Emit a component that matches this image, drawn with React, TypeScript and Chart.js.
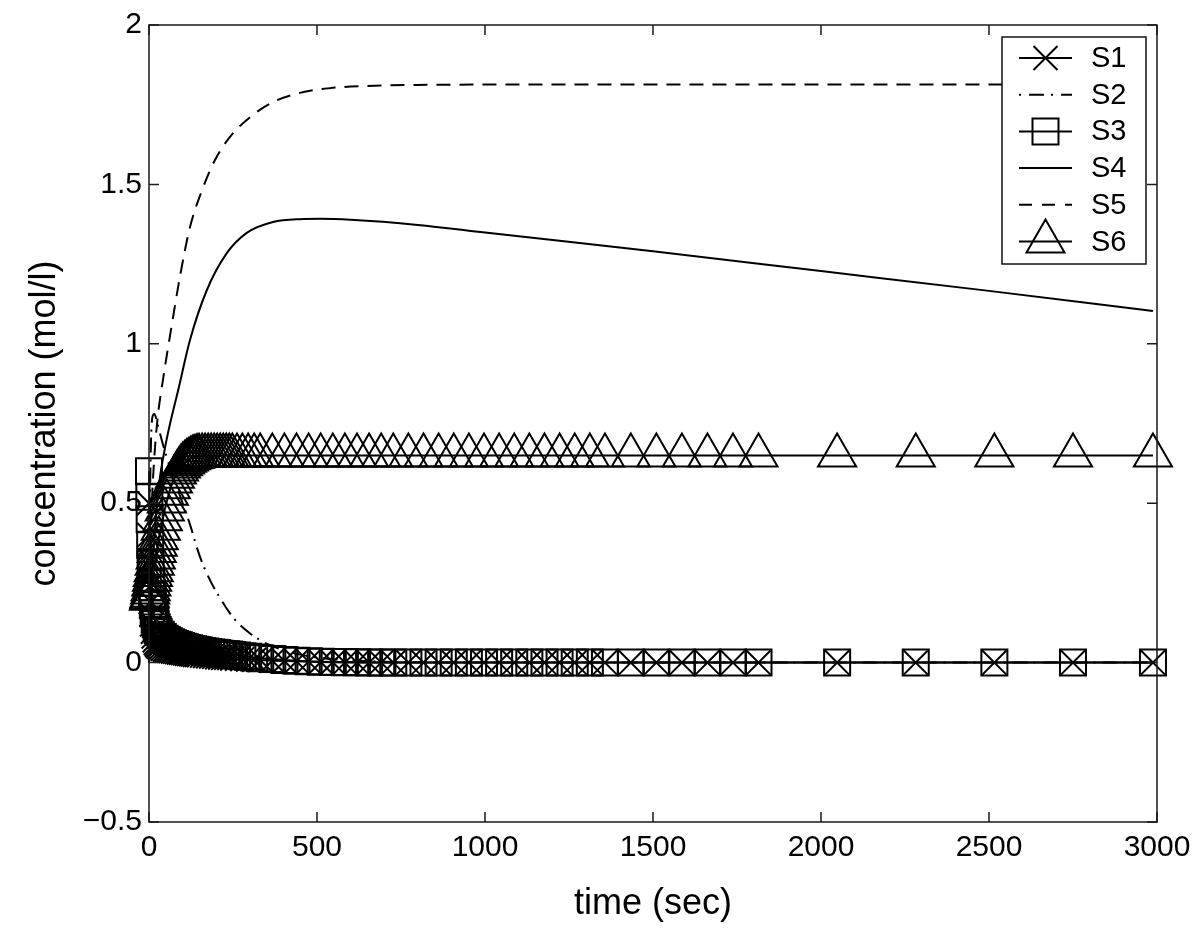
import React, { useEffect, useRef } from 'react';
import { Chart, registerables } from 'chart.js';

Chart.register(...registerables);

const FONT = '"Liberation Sans", Arial, Helvetica, sans-serif';

const seriesNames = ['S1', 'S2', 'S3', 'S4', 'S5', 'S6'];
const xTitle = 'time (sec)';
const yTitle = 'concentration (mol/l)';
const xTicks = [0, 500, 1000, 1500, 2000, 2500, 3000];
const xTickLabels = ['0', '500', '1000', '1500', '2000', '2500', '3000'];
const yTicks = [-0.5, 0, 0.5, 1, 1.5, 2];
const yTickLabels = ['\u22120.5', '0', '0.5', '1', '1.5', '2'];

// solver output times (marker series)
const tStep = [
  0, 1, 2, 3.5, 5, 7, 9, 11.5, 14, 17, 20, 23, 26, 29,
  35, 41, 47, 53, 59, 65, 71, 77, 83, 89, 95, 101, 107, 113, 119, 125, 131, 137, 143, 149,
  158, 167, 176, 185, 194, 203, 212, 221, 230, 239, 248,
  262, 278, 295, 313, 331,
  367, 403, 439, 475, 511, 547, 583, 619, 655, 691, 727,
  772, 817, 862, 907, 952, 997, 1042, 1087, 1132, 1177, 1222, 1267, 1312, 1357,
  1434, 1510, 1586, 1662, 1738, 1814,
  2048, 2282, 2516, 2750, 2988,
];

const s1 = [
  0.5, 0.4, 0.32, 0.24, 0.19, 0.15, 0.12, 0.097, 0.082, 0.07, 0.062, 0.057, 0.053, 0.05,
  0.046, 0.043, 0.041, 0.039, 0.037, 0.036, 0.035, 0.034, 0.033, 0.032, 0.031, 0.03, 0.029, 0.028, 0.027, 0.026, 0.025, 0.024, 0.024, 0.023,
  0.022, 0.021, 0.02, 0.019, 0.018, 0.017, 0.016, 0.015, 0.015, 0.014, 0.013,
  0.012, 0.011, 0.01, 0.009, 0.008,
  0.006, 0.005, 0.004, 0.003, 0.002, 0.001, 0, 0, 0, 0, 0,
  0, 0, 0, 0, 0, 0, 0, 0, 0, 0, 0, 0, 0, 0,
  0, 0, 0, 0, 0, 0,
  0, 0, 0, 0, 0,
];

const s3 = [
  0.6, 0.52, 0.45, 0.37, 0.31, 0.25, 0.21, 0.18, 0.155, 0.135, 0.12, 0.11, 0.102, 0.096,
  0.087, 0.08, 0.075, 0.071, 0.067, 0.064, 0.061, 0.058, 0.056, 0.054, 0.052, 0.05, 0.048, 0.046, 0.045, 0.043, 0.042, 0.04, 0.039, 0.038,
  0.036, 0.035, 0.033, 0.032, 0.031, 0.03, 0.028, 0.027, 0.026, 0.025, 0.024,
  0.022, 0.02, 0.018, 0.016, 0.014,
  0.011, 0.008, 0.006, 0.004, 0.003, 0.002, 0.0015, 0.001, 0, 0, 0,
  0, 0, 0, 0, 0, 0, 0, 0, 0, 0, 0, 0, 0, 0,
  0, 0, 0, 0, 0, 0,
  0, 0, 0, 0, 0,
];

const s6 = [
  0.2, 0.205, 0.21, 0.22, 0.23, 0.245, 0.26, 0.275, 0.29, 0.31, 0.33, 0.35, 0.37, 0.39,
  0.42, 0.45, 0.48, 0.505, 0.53, 0.55, 0.568, 0.583, 0.596, 0.606, 0.615, 0.622, 0.628, 0.633, 0.637, 0.641, 0.644, 0.646, 0.648, 0.649,
  0.65, 0.65, 0.65, 0.65, 0.65, 0.65, 0.65, 0.65, 0.65, 0.65, 0.65,
  0.65, 0.65, 0.65, 0.65, 0.65,
  0.65, 0.65, 0.65, 0.65, 0.65, 0.65, 0.65, 0.65, 0.65, 0.65, 0.65,
  0.65, 0.65, 0.65, 0.65, 0.65, 0.65, 0.65, 0.65, 0.65, 0.65, 0.65, 0.65, 0.65, 0.65,
  0.65, 0.65, 0.65, 0.65, 0.65, 0.65,
  0.65, 0.65, 0.65, 0.65, 0.65,
];

const tS2 = [0, 2, 5, 10, 16, 25, 40, 60, 90, 120, 150, 175, 210, 250, 300, 355, 400, 450, 500, 600, 700, 800, 1000, 2988];
const s2 = [0, 0.4, 0.65, 0.77, 0.78, 0.75, 0.69, 0.62, 0.53, 0.44, 0.337, 0.273, 0.205, 0.142, 0.092, 0.057, 0.039, 0.025, 0.016, 0.007, 0.003, 0.001, 0, 0];

const tS4 = [0, 5, 10, 20, 30, 48, 65, 87, 122, 172, 232, 291, 369, 449, 510, 600, 800, 1000, 1500, 2000, 2500, 2988];
const s4 = [0, 0.15, 0.28, 0.45, 0.56, 0.676, 0.76, 0.855, 1.012, 1.168, 1.285, 1.348, 1.382, 1.391, 1.392, 1.389, 1.373, 1.349, 1.29, 1.228, 1.166, 1.103];

const tS5 = [0, 3, 8, 15, 25, 42, 68, 92, 122, 158, 196, 241, 301, 369, 449, 539, 650, 800, 1000, 2988];
const s5 = [0, 0.25, 0.48, 0.63, 0.76, 0.89, 1.06, 1.21, 1.366, 1.482, 1.576, 1.649, 1.711, 1.758, 1.787, 1.802, 1.809, 1.812, 1.813, 1.813];

const xy = (t: number[], v: number[]) => t.map((x, i) => ({ x, y: v[i] }));

type LegendItem = { name: string; dash: number[]; marker: string };
const legendItems: LegendItem[] = [
  { name: seriesNames[0], dash: [], marker: 'x' },
  { name: seriesNames[1], dash: [2, 8, 15, 7], marker: '' },
  { name: seriesNames[2], dash: [], marker: 'square' },
  { name: seriesNames[3], dash: [], marker: '' },
  { name: seriesNames[4], dash: [13, 10], marker: '' },
  { name: seriesNames[5], dash: [], marker: 'triangle' },
];

function drawMarker(ctx: CanvasRenderingContext2D, kind: string, x: number, y: number) {
  ctx.beginPath();
  if (kind === 'x') {
    const o = 12;
    ctx.moveTo(x - o, y - o); ctx.lineTo(x + o, y + o);
    ctx.moveTo(x + o, y - o); ctx.lineTo(x - o, y + o);
  } else if (kind === 'square') {
    ctx.rect(x - 13, y - 13, 26, 26);
  } else if (kind === 'triangle') {
    ctx.moveTo(x, y - 22); ctx.lineTo(x + 19, y + 11); ctx.lineTo(x - 19, y + 11); ctx.closePath();
  }
  ctx.stroke();
}

const matlabPlugin = {
  id: 'matlabLook',
  afterDatasetsDraw(chart: any) {
    const ctx: CanvasRenderingContext2D = chart.ctx;
    ctx.save();
    const bx = 1002, by = 37, bw = 144, bh = 227;
    ctx.fillStyle = '#fff';
    ctx.fillRect(bx, by, bw + 8, bh);
    ctx.strokeStyle = '#111';
    ctx.lineWidth = 1.5;
    ctx.strokeRect(bx, by, bw, bh);
    ctx.font = `29px ${FONT}`;
    ctx.textAlign = 'left';
    ctx.textBaseline = 'middle';
    legendItems.forEach((it, i) => {
      const y = 58 + i * 36.7;
      ctx.strokeStyle = '#000';
      ctx.lineWidth = 2;
      ctx.setLineDash(it.dash);
      ctx.beginPath();
      ctx.moveTo(1019, y);
      ctx.lineTo(1072, y);
      ctx.stroke();
      ctx.setLineDash([]);
      if (it.marker) drawMarker(ctx, it.marker, 1045.5, y);
      ctx.fillStyle = '#000';
      ctx.fillText(it.name, 1091, y + 1);
    });
    ctx.restore();
  },
  afterDraw(chart: any) {
    const ctx: CanvasRenderingContext2D = chart.ctx;
    const a = chart.chartArea;
    const sx = chart.scales.x;
    const sy = chart.scales.y;
    ctx.save();
    ctx.strokeStyle = '#1a1a1a';
    ctx.lineWidth = 1.5;
    ctx.setLineDash([]);
    ctx.strokeRect(a.left, a.top, a.right - a.left, a.bottom - a.top);
    ctx.beginPath();
    for (const v of xTicks) {
      const px = sx.getPixelForValue(v);
      ctx.moveTo(px, a.bottom); ctx.lineTo(px, a.bottom - 10);
      ctx.moveTo(px, a.top); ctx.lineTo(px, a.top + 10);
    }
    for (const v of yTicks) {
      const py = sy.getPixelForValue(v);
      ctx.moveTo(a.left, py); ctx.lineTo(a.left + 10, py);
      ctx.moveTo(a.right, py); ctx.lineTo(a.right - 10, py);
    }
    ctx.stroke();
    ctx.fillStyle = '#000';
    ctx.font = `36px ${FONT}`;
    ctx.textAlign = 'center';
    ctx.textBaseline = 'middle';
    ctx.fillText(xTitle, (a.left + a.right) / 2, 904);
    ctx.translate(45, (a.top + a.bottom) / 2);
    ctx.rotate(-Math.PI / 2);
    ctx.fillText(yTitle, 0, 0);
    ctx.restore();
  },
};

export default function App() {
  const ref = useRef<HTMLCanvasElement | null>(null);
  useEffect(() => {
    if (!ref.current) return;
    const base = {
      borderColor: '#000',
      borderWidth: 2,
      fill: false,
      clip: false as any,
      pointBorderColor: '#000',
      pointBackgroundColor: 'rgba(0,0,0,0)',
      pointBorderWidth: 2,
      pointHoverRadius: 0,
    };
    const chart = new Chart(ref.current, {
      type: 'line',
      data: {
        datasets: [
          { label: seriesNames[0], data: xy(tStep, s1), ...base, pointStyle: 'crossRot', pointRadius: 17, tension: 0 },
          { label: seriesNames[1], data: xy(tS2, s2), ...base, pointRadius: 0, borderDash: [15, 6, 2, 7], cubicInterpolationMode: 'monotone' },
          { label: seriesNames[2], data: xy(tStep, s3), ...base, pointStyle: 'rect', pointRadius: 18.4, tension: 0 },
          { label: seriesNames[3], data: xy(tS4, s4), ...base, pointRadius: 0, cubicInterpolationMode: 'monotone' },
          { label: seriesNames[4], data: xy(tS5, s5), ...base, pointRadius: 0, borderDash: [14, 9], cubicInterpolationMode: 'monotone' },
          { label: seriesNames[5], data: xy(tStep, s6), ...base, pointStyle: 'triangle', pointRadius: 22, tension: 0 },
        ] as any,
      },
      options: {
        responsive: false,
        animation: false,
        events: [],
        layout: { padding: { left: 0, right: 43, top: 25, bottom: 0 } },
        plugins: { legend: { display: false }, tooltip: { enabled: false }, title: { display: false } },
        scales: {
          x: {
            type: 'linear',
            min: 0,
            max: 3000,
            grid: { display: false, drawTicks: false },
            border: { display: false },
            afterBuildTicks: (s: any) => { s.ticks = xTicks.map((v) => ({ value: v })); },
            afterFit: (s: any) => { s.height = 107; },
            ticks: {
              autoSkip: false,
              maxRotation: 0,
              padding: 8,
              color: '#000',
              font: { family: FONT, size: 30 },
              callback: (v: any) => xTickLabels[xTicks.indexOf(Number(v))] ?? '',
            },
          },
          y: {
            type: 'linear',
            min: -0.5,
            max: 2,
            grid: { display: false, drawTicks: false },
            border: { display: false },
            afterBuildTicks: (s: any) => { s.ticks = yTicks.map((v) => ({ value: v })); },
            afterFit: (s: any) => { s.width = 149; },
            ticks: {
              autoSkip: false,
              padding: 7,
              color: '#000',
              font: { family: FONT, size: 30 },
              callback: (v: any) => yTickLabels[yTicks.indexOf(Number(v))] ?? '',
            },
          },
        },
      } as any,
      plugins: [matlabPlugin],
    });
    return () => chart.destroy();
  }, []);
  return (
    <div style={{ position: 'absolute', left: 0, top: 0, width: 1200, height: 929, background: '#fff' }}>
      <canvas ref={ref} width={1200} height={929} style={{ display: 'block' }} />
    </div>
  );
}
